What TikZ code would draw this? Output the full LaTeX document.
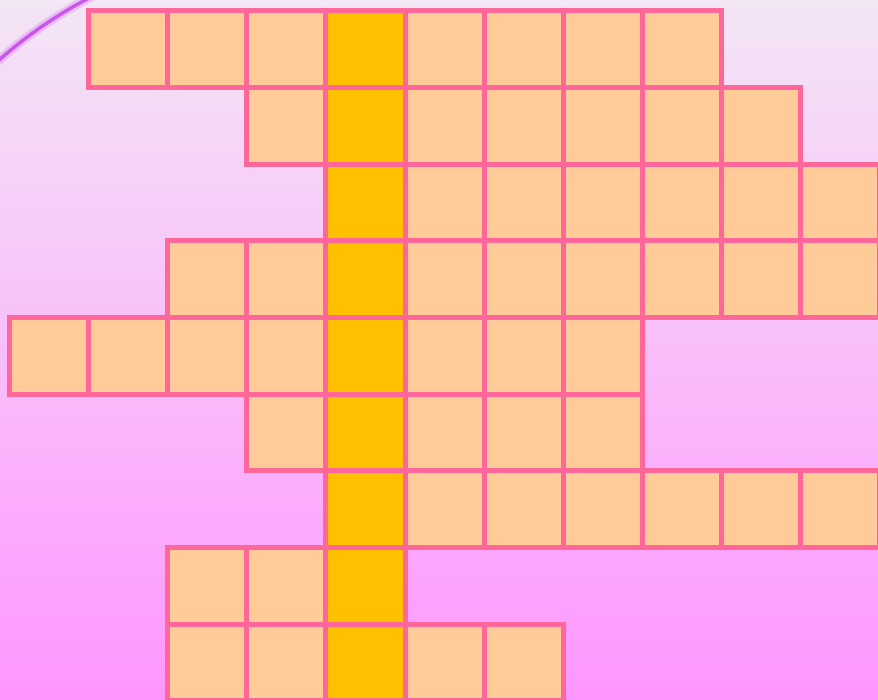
\documentclass[tikz,border=0pt]{standalone}
\usepackage{xcolor}
\definecolor{cellline}{HTML}{FF6699}
\definecolor{cellfill}{HTML}{FFCC99}
\definecolor{keyfill}{HTML}{FFC000}
\definecolor{bgtop}{HTML}{F3E6F5}
\definecolor{bgbot}{HTML}{FF96FF}
\definecolor{arcline}{HTML}{CC55EE}
\tikzset{
  cell/.style   ={draw=cellline,line width=5pt,fill=cellfill},
  keycell/.style={cell,fill=keyfill},
  halo/.style   ={draw=arcline,line width=3.5pt}
}
\begin{document}
\begin{tikzpicture}[x=1pt,y=-1pt]
    \clip (0,0) rectangle (878,700);
    \shade[top color=bgtop,bottom color=bgbot] (0,0) rectangle (878,700);
    % decorative arc, top left
    \draw[halo,draw opacity=0.25,line width=9pt] (300,400) ++(226:454) arc[start angle=226,end angle=246,radius=454];
    \draw[halo] (300,400) ++(226:454) arc[start angle=226,end angle=246,radius=454];
    % rows of the grid: row / first column / last column
    \foreach \r/\a/\b in {0/1/8,1/3/9,2/4/10,3/2/10,4/0/7,5/3/7,6/4/10,7/2/4,8/2/6}{
      \foreach \c in {\a,...,\b}
        \draw[cell] ({9.5+79.1*\c},{10.9+76.65*\r}) rectangle ({9.5+79.1*(\c+1)},{10.9+76.65*(\r+1)});
    }
    % key column
    \foreach \r in {0,...,8}
      \draw[keycell] ({9.5+79.1*4},{10.9+76.65*\r}) rectangle ({9.5+79.1*5},{10.9+76.65*(\r+1)});
\end{tikzpicture}
\end{document}
